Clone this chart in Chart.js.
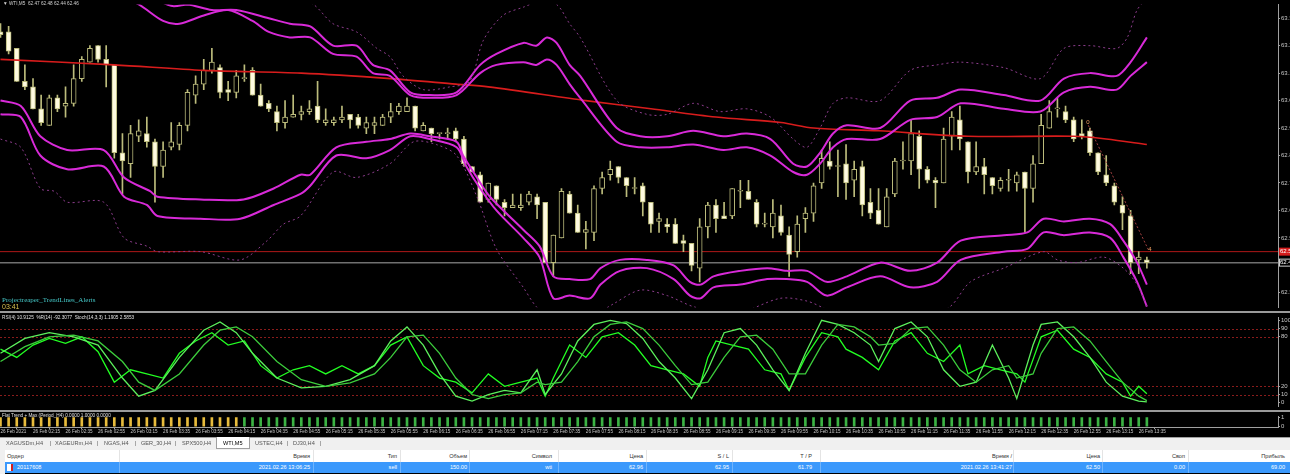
<!DOCTYPE html>
<html>
<head>
<meta charset="utf-8">
<script src="https://cdn.jsdelivr.net/npm/chart.js@4.4.0/dist/chart.umd.min.js"></script>
<style>
  body { margin: 0; width: 1290px; height: 474px; background: #000; overflow: hidden; position: relative; font-family: "Liberation Sans", Arial, sans-serif; }
  .pane { position: absolute; left: 0; width: 1290px; }
  .sep { position: absolute; left: 0; width: 1290px; height: 2px; background: #9a9a9a; }
  .txt { position: absolute; white-space: nowrap; font-size: 4.7px; line-height: 6px; }
  #tabs { position: absolute; left: 0; top: 437px; width: 1290px; height: 12px; background: #f0f0f0; border-top: 1px solid #a0a0a0; color: #555; }
  #tabs span { position: absolute; top: 2px; font-size: 5.6px; white-space: nowrap; }
  #tabs .act { top: -1px; height: 12px; background: #fff; border: 1px solid #a0a0a0; border-top: none; color: #000; padding: 3px 6px 0 6px; box-sizing: border-box; }
  #head { position: absolute; left: 5px; top: 450px; width: 1285px; height: 12px; background: #fff; border-bottom: 1px solid #e0e0e0; }
  #row { position: absolute; left: 5px; top: 462px; width: 1285px; height: 11px; background: #3b99fc; }
  #head span, #row span { position: absolute; top: 3px; font-size: 5.6px; white-space: nowrap; }
  #row span { top: 2px; }
  #head span { color: #333; }
  #row span { color: #fff; }
  #head i, #row i { position: absolute; top: 0; width: 1px; height: 100%; background: #e4e4e4; }
  #row i { background: #6fb4fd; }
  #leftbar { position: absolute; left: 0; top: 450px; width: 5px; height: 24px; background: #f0f0f0; }
</style>
</head>
<body>
<div class="pane" style="top:0;height:312px"><canvas id="main" width="1290" height="312"></canvas></div>
<div class="sep" style="top:311px"></div>
<div class="pane" style="top:313px;height:98px"><canvas id="osc" width="1290" height="98"></canvas></div>
<div class="sep" style="top:410px"></div>
<div class="pane" style="top:412px;height:25px"><canvas id="flat" width="1290" height="25"></canvas></div>

<div class="txt" style="left:3px;top:1px;color:#d0d0d0">&#9660; WTI,M5&nbsp; 62.47 62.48 62.44 62.46</div>
<div class="txt" style="left:2px;top:296px;color:#45c8c8;font-family:'Liberation Serif',serif;font-size:7px;line-height:8px">Projectreaper_TrendLines_Alerts</div>
<div class="txt" style="left:2px;top:303px;color:#d8c050;font-size:7px;line-height:8px">03:41</div>
<div class="txt" style="left:2px;top:315px;color:#e0e0e0">RSI(4) 10.9125&nbsp; %R(14) -92.3077&nbsp; Stoch(14,3,3) 1.1905 2.5853</div>
<div class="txt" style="left:2px;top:413px;color:#e0e0e0">Flat Trend + Max (Period_H4) 0.0000 1.0000 0.0000</div>

<div id="tabs">
  <span style="left:6px">XAGUSDm,H4</span><span style="left:50px">|</span>
  <span style="left:55px">XAGEURm,H4</span><span style="left:97px">|</span>
  <span style="left:104px">NGAS,H4</span><span style="left:135px">|</span>
  <span style="left:141px">GER_30,H4</span><span style="left:175px">|</span>
  <span style="left:182px">SPX500,H4</span>
  <span class="act" style="left:216px">WTI,M5</span>
  <span style="left:255px">USTEC,H4</span><span style="left:287px">|</span>
  <span style="left:293px">DJ30,H4</span><span style="left:320px">|</span>
</div>
<div id="leftbar"></div>
<div id="head"></div>
<div id="row"></div>

<script>
// candles, 26 Feb 2021 01:55 .. 13:40, M5
const opens = [63.30,63.30,63.24,63.12,63.10,63.02,62.96,63.06,63.03,63.04,63.13,63.19,63.25,63.20,63.18,62.86,62.82,62.92,62.93,62.90,
  62.81,62.88,62.89,62.96,63.07,63.11,63.16,63.17,63.09,63.08,63.13,63.16,63.07,63.04,63.01,62.97,62.99,63.00,63.01,63.03,
  62.97,62.97,62.98,63.00,62.99,62.95,62.96,62.96,62.99,63.01,63.01,63.03,62.94,62.95,62.93,62.93,62.94,62.91,62.81,62.78,
  62.69,62.74,62.68,62.66,62.66,62.68,62.70,62.68,62.46,62.55,62.71,62.64,62.57,62.57,62.73,62.78,62.81,62.77,62.73,62.74,
  62.68,62.61,62.60,62.60,62.54,62.53,62.44,62.59,62.67,62.63,62.63,62.72,62.72,62.68,62.60,62.59,62.63,62.56,62.50,62.62,
  62.64,62.75,62.83,62.81,62.82,62.76,62.81,62.68,62.65,62.59,62.71,62.83,62.83,62.92,62.80,62.76,62.75,62.92,62.98,62.90,
  62.79,62.81,62.77,62.73,62.76,62.75,62.79,62.73,62.82,62.95,63.02,63.01,62.98,62.93,62.94,62.86,62.78,62.74,62.67,62.63,
  62.47,62.47];
const highs = [63.33,63.32,63.24,63.18,63.13,63.07,63.07,63.07,63.10,63.18,63.21,63.25,63.25,63.25,63.18,62.93,62.96,62.98,62.99,62.91,
  62.90,62.97,62.97,63.09,63.14,63.20,63.24,63.18,63.12,63.16,63.18,63.17,63.11,63.05,63.03,63.05,63.07,63.03,63.05,63.12,
  63.02,62.99,63.03,63.00,63.00,62.99,62.99,63.00,63.04,63.04,63.06,63.03,62.97,62.95,62.93,62.95,62.95,62.92,62.81,62.79,
  62.75,62.74,62.69,62.71,62.71,62.72,62.71,62.68,62.56,62.73,62.72,62.67,62.61,62.74,62.79,62.83,62.81,62.77,62.77,62.75,
  62.68,62.64,62.62,62.62,62.56,62.53,62.62,62.68,62.69,62.68,62.73,62.76,62.76,62.69,62.64,62.69,62.67,62.59,62.63,62.66,
  62.75,62.87,62.90,62.87,62.89,62.83,62.83,62.73,62.73,62.73,62.84,62.90,62.98,62.94,62.81,62.77,62.95,63.01,63.03,62.90,
  62.90,62.84,62.77,62.77,62.80,62.79,62.79,62.85,63.00,63.05,63.06,63.03,62.99,62.98,62.95,62.86,62.85,62.75,62.70,62.65,
  62.50,62.48];
const lows = [63.28,63.22,63.12,63.09,63.02,62.96,62.96,63.01,62.99,63.03,63.12,63.19,63.19,63.10,62.84,62.71,62.77,62.90,62.88,62.68,
  62.77,62.87,62.87,62.94,63.04,63.09,63.15,63.06,63.05,63.06,63.12,63.07,63.03,63.01,62.94,62.95,62.99,62.98,63.00,62.97,
  62.96,62.96,62.97,62.95,62.95,62.93,62.93,62.96,62.97,63.00,63.01,62.94,62.94,62.90,62.91,62.91,62.90,62.81,62.79,62.68,
  62.68,62.67,62.63,62.66,62.65,62.67,62.62,62.46,62.41,62.55,62.64,62.57,62.51,62.54,62.71,62.76,62.75,62.70,62.71,62.63,
  62.57,62.57,62.57,62.53,62.50,62.43,62.39,62.55,62.57,62.62,62.62,62.66,62.69,62.59,62.59,62.55,62.56,62.41,62.48,62.57,
  62.61,62.73,62.80,62.70,62.69,62.70,62.63,62.62,62.60,62.59,62.70,62.80,62.78,62.73,62.75,62.66,62.75,62.87,62.87,62.75,
  62.78,62.71,62.71,62.72,62.72,62.72,62.57,62.68,62.82,62.95,62.99,62.97,62.90,62.91,62.85,62.78,62.74,62.67,62.58,62.42,
  62.42,62.44];
const closes = [63.29,63.23,63.12,63.10,63.02,62.97,63.06,63.02,63.04,63.13,63.20,63.24,63.20,63.18,62.86,62.83,62.93,62.94,62.90,62.81,
  62.87,62.90,62.96,63.08,63.11,63.16,63.19,63.08,63.08,63.14,63.13,63.07,63.03,63.02,62.97,62.99,63.00,63.01,63.02,62.98,
  62.98,62.98,62.99,62.98,62.96,62.97,62.97,62.99,63.01,63.03,63.03,62.95,62.96,62.93,62.93,62.93,62.91,62.82,62.79,62.68,
  62.75,62.69,62.66,62.67,62.67,62.71,62.67,62.46,62.56,62.72,62.64,62.57,62.58,62.73,62.77,62.80,62.77,62.74,62.73,62.68,
  62.60,62.62,62.59,62.53,62.53,62.45,62.59,62.67,62.62,62.62,62.73,62.72,62.69,62.60,62.60,62.64,62.57,62.49,62.60,62.64,
  62.74,62.84,62.81,62.81,62.75,62.80,62.67,62.64,62.60,62.70,62.83,62.83,62.93,62.80,62.76,62.75,62.91,62.99,62.91,62.79,
  62.81,62.78,62.74,62.76,62.76,62.78,62.73,62.82,62.96,63.01,63.02,62.98,62.91,62.92,62.86,62.79,62.75,62.68,62.64,62.46,
  62.48,62.46];

// indicator lines, read at [bar index, price]
const maLine = [[0,63.20],[14,63.18],[25,63.16],[37,63.15],[48,63.13],[56,63.11],[60,63.10],[72,63.05],[80,63.02],[88,62.99],
  [96,62.97],[100,62.95],[108,62.94],[119,62.92],[132,62.92],[136,62.91],[141,62.89]];
const bandUpOuter = [[0,63.62],[10,63.55],[17,63.45],[21,63.395],[23,63.40],[26,63.38],[29,63.38],[33,63.35],[35.6,63.33],[38.1,63.32],
  [40.9,63.25],[43.8,63.25],[45.8,63.18],[47.9,63.16],[50.4,63.08],[52.8,63.07],[56.1,63.08],[59,63.18],[61,63.22],[64.3,63.26],
  [65.9,63.25],[67.2,63.28],[68.4,63.26],[70,63.18],[71.3,63.14],[75.8,62.95],[78.7,62.92],[82,62.92],[85.2,62.94],[88.9,62.92],
  [91.8,62.93],[94.7,62.91],[97.5,62.82],[99.2,62.81],[100.8,62.86],[102.4,62.93],[104.1,62.96],[108.2,62.95],[111.9,63.05],[115.2,63.06],
  [118.1,63.09],[123.4,63.07],[127.9,63.05],[130.8,63.13],[134,63.15],[137.3,63.14],[139,63.19],[141,63.28]];
const bandUpInner = [[0,63.56],[10,63.50],[17,63.40],[20,63.34],[22,63.33],[25,63.36],[28,63.38],[31,63.34],[33,63.30],[35.6,63.28],
  [38.1,63.28],[40.9,63.22],[43.8,63.21],[45.8,63.15],[47.9,63.14],[50.4,63.07],[52.8,63.06],[56.1,63.07],[59,63.15],[61,63.18],
  [64.3,63.19],[65.9,63.18],[67.2,63.20],[68.4,63.18],[70,63.11],[71.3,63.06],[75.8,62.90],[78.7,62.88],[82,62.88],[85.2,62.89],
  [88.9,62.87],[91.8,62.88],[94.7,62.85],[97.5,62.79],[99.2,62.78],[100.8,62.82],[102.4,62.88],[104.1,62.91],[108.2,62.91],[111.9,62.98],
  [115.2,62.99],[118.1,63.04],[123.4,63.02],[127.9,63.01],[130.8,63.08],[134,63.10],[137.3,63.09],[139,63.14],[141,63.19]];
const bandLowInner = [[0,63.05],[2.5,63.03],[4.9,62.92],[8.2,62.87],[12.7,62.87],[15.2,62.77],[18.4,62.72],[19.3,62.70],[24.6,62.69],[29.9,62.69],
  [33.6,62.73],[36.9,62.78],[38.1,62.78],[41.3,62.88],[45,62.90],[47.9,62.91],[50.4,62.93],[52.8,62.92],[56.1,62.90],[56.9,62.85],
  [58.6,62.77],[60.2,62.70],[64.3,62.58],[66.3,62.52],[68,62.41],[70,62.40],[72.5,62.40],[73.8,62.44],[76.2,62.47],[79.5,62.47],
  [82.8,62.45],[84.8,62.39],[86.1,62.38],[87.7,62.41],[91,62.43],[94.3,62.44],[96.7,62.43],[99.2,62.43],[101.6,62.39],[104.1,62.41],
  [108.2,62.46],[111.9,62.43],[115.2,62.46],[118.1,62.54],[123.4,62.56],[126.3,62.57],[128.3,62.62],[130.8,62.61],[134,62.62],[136.5,62.60],
  [138.1,62.54],[139.8,62.46],[141,62.38]];
const bandLowOuter = [[0,63.00],[2.5,62.99],[4.9,62.85],[8.2,62.80],[12.7,62.81],[15.2,62.70],[18,62.67],[19.3,62.63],[24.6,62.62],[29.5,62.62],
  [33.6,62.67],[36.9,62.71],[38.1,62.74],[41.3,62.85],[45,62.84],[47.9,62.87],[50.4,62.92],[52.8,62.91],[56.1,62.88],[57.3,62.81],
  [59,62.73],[61,62.65],[64.3,62.55],[66.3,62.48],[68,62.33],[70,62.34],[72.5,62.33],[73.8,62.38],[76.2,62.43],[79.5,62.44],
  [82.8,62.40],[84.8,62.34],[86.1,62.33],[87.7,62.37],[91,62.38],[94.3,62.40],[96.7,62.40],[99.2,62.39],[101.6,62.34],[104.1,62.37],
  [108.2,62.41],[111.9,62.37],[115.2,62.39],[118.1,62.47],[123.4,62.50],[126.3,62.51],[128.3,62.57],[130.8,62.56],[134,62.57],[136.5,62.55],
  [138.1,62.48],[139.8,62.39],[141,62.30]];
const envUp = [[0,63.75],[20,63.60],[30,63.50],[35,63.45],[38.5,63.40],[40.9,63.33],[43.8,63.30],[46.3,63.24],[47.9,63.21],[49.5,63.14],
  [52,63.09],[55.3,63.10],[57.7,63.12],[59.4,63.27],[61.8,63.36],[64.3,63.39],[66.3,63.41],[68.4,63.40],[70,63.33],[71.3,63.28],
  [75.8,63.05],[79.5,63.00],[82,63.00],[85.2,63.04],[88.5,63.01],[91.8,63.02],[94.7,62.99],[97.5,62.91],[99.2,62.88],[100.8,62.95],
  [102.4,63.04],[104.1,63.06],[108.2,63.05],[111.9,63.16],[115.2,63.18],[118.1,63.19],[123.4,63.17],[127.9,63.13],[130.8,63.24],[134,63.25],
  [137.3,63.24],[138.6,63.28],[139.8,63.38],[141,63.42]];
const envLow = [[0,62.91],[2.5,62.88],[4.9,62.73],[6.6,62.72],[8.2,62.68],[12.7,62.68],[15.2,62.55],[18,62.52],[19.3,62.50],[24.6,62.50],
  [29.5,62.47],[32.8,62.54],[34.8,62.60],[36.9,62.63],[40.9,62.79],[43.8,62.77],[47.9,62.82],[50.8,62.90],[53.6,62.89],[56.1,62.85],
  [58.6,62.70],[61,62.51],[64.3,62.37],[65.9,62.30],[69,62.22],[72,62.25],[75.4,62.31],[78.7,62.36],[82,62.34],[85.2,62.30],
  [90,62.27],[95.9,62.33],[99.2,62.32],[101.6,62.29],[106,62.24],[112,62.23],[116.8,62.30],[119.3,62.39],[123.4,62.44],[128.3,62.50],
  [130,62.47],[132.4,62.46],[135.7,62.48],[138.1,62.44],[139.8,62.38],[141,62.30]];
const trendLine = [[133.8,62.96],[141.3,62.50]];
const askPrice = 62.50;
const bidPrice = 62.46;
const priceTicks = [62.35,62.55,62.65,62.75,62.85,62.95,63.05,63.15,63.25,63.35];

// oscillator window, read at [bar index, value]
const oscRsi = [[0,65],[2,55],[4,70],[6,78],[8,72],[10,80],[12,62],[14,25],[16,40],[18,35],[20,30],[22,60],[24,75],[26,85],[28,70],
  [30,75],[32,45],[34,30],[36,40],[38,45],[40,35],[42,45],[44,35],[46,45],[48,70],[50,80],[52,45],[54,30],[56,25],[58,12],[60,35],
  [62,20],[64,25],[66,30],[67,8],[68,30],[70,70],[72,55],[74,80],[76,85],[78,70],[80,45],[82,40],[84,35],[86,20],[87,55],[88,75],
  [90,70],[92,65],[94,40],[96,35],[97,15],[99,55],[101,85],[103,80],[104,65],[106,55],[108,40],[110,75],[112,85],[114,60],[116,50],
  [118,70],[119,35],[121,45],[123,40],[125,35],[126,25],[128,80],[130,88],[132,65],[134,55],[136,35],[138,25],[139,8],[140,20],[141,10.9]];
const oscStochMain = [[0,60],[3,78],[6,85],[9,80],[12,70],[15,30],[17,8],[19,15],[22,55],[25,88],[27,98],[29,85],[31,60],[34,30],
  [37,18],[40,20],[43,28],[46,45],[48,75],[50,92],[52,70],[54,35],[56,8],[58,2],[60,10],[62,15],[64,12],[66,40],[67,10],[69,35],
  [71,75],[73,95],[75,100],[77,96],[79,78],[81,50],[83,30],[85,5],[87,40],[89,85],[91,90],[93,70],[95,40],[97,15],[99,60],[101,100],
  [103,95],[105,85],[107,70],[108,50],[110,90],[112,98],[114,80],[116,40],[118,20],[120,25],[122,70],[124,30],[125,5],[127,70],
  [128,95],[130,98],[132,80],[134,55],[136,25],[138,8],[140,2],[141,1.2]];
const oscStochSignal = [[0,50],[3,68],[6,80],[9,82],[12,75],[15,50],[17,25],[19,15],[22,35],[25,70],[27,88],[29,92],[31,80],[34,50],
  [37,28],[40,20],[43,24],[46,35],[48,55],[50,80],[52,82],[54,60],[56,30],[58,10],[60,5],[62,10],[64,12],[66,25],[67,22],[69,25],
  [71,50],[73,80],[75,95],[77,98],[79,90],[81,70],[83,45],[85,22],[87,25],[89,55],[91,80],[93,82],[95,65],[97,35],[99,35],[101,70],
  [103,95],[105,92],[107,80],[108,70],[110,72],[112,90],[114,92],[116,70],[118,40],[120,25],[122,40],[124,45],[125,30],[127,35],
  [128,60],[130,90],[132,92],[134,75],[136,50],[138,25],[140,8],[141,2.6]];
const oscLevels = [10,20,80,90];
const oscTicks = [0,10,20,80,90,100];

// flat trend histogram: 1 = yellow bar, 0 = green bar
const flatValues = [1,1,1,1,1,1,1,1,1,1,1,1,1,1,1,1,1,1,1,1,1,1,1,1,1,1,1,1,1,1,1,1,1,1,1,1,1,1,1,1,1,1,1,1,1,1,1,1,1,1,
  1,1,1,1,1,1,1,1,1,1,1,1,1,1,1,1,1,1,1,1,1,1,1,1,1,1,1,1,1,1,1,1,1,1,1,1,1,1,1,1,1,1,1,1,1,1,1,1,1,1,
  1,1,1,1,1,1,1,1,1,1,1,1,1,1,1,1,1,1,1,1,1,1,1,1,1,1,1,1,1,1,1,1,1,1,1,1,1,1,1,1,1,1];
const flatMode = [1,1,1,1,1,1,1,1,1,1,1,1,1,1,1,1,1,1,1,1,1,1,1,1,1,1,1,1,1,1,0,0,0,0,0,0,0,0,0,0,0,0,0,0,0,0,0,0,0,0,
  0,0,0,0,0,0,0,0,0,0,0,0,0,0,0,0,0,0,0,0,0,0,0,0,0,0,0,0,0,0,0,0,0,0,0,0,0,0,0,0,0,0,0,0,0,0,0,0,0,0,
  0,0,0,0,0,0,0,0,0,0,0,0,0,0,0,0,0,0,0,0,0,0,0,0,0,0,0,0,0,0,0,0,0,0,0,0,0,0,0,0,0,0];

const timeIdx = [0,4,8,12,16,20,24,28,32,36,40,44,48,52,56,60,64,68,72,76,80,84,88,92,96,100,104,108,112,116,120,124,128,132,136,140];
const timeLabels = ["26 Feb 2021","26 Feb 02:15","26 Feb 02:35","26 Feb 02:55","26 Feb 03:15","26 Feb 03:35","26 Feb 03:55","26 Feb 04:15",
  "26 Feb 04:35","26 Feb 04:55","26 Feb 05:15","26 Feb 05:35","26 Feb 05:55","26 Feb 06:15","26 Feb 06:35","26 Feb 06:55","26 Feb 07:15",
  "26 Feb 07:35","26 Feb 07:55","26 Feb 08:15","26 Feb 08:35","26 Feb 08:55","26 Feb 09:15","26 Feb 09:35","26 Feb 09:55","26 Feb 10:15",
  "26 Feb 10:35","26 Feb 10:55","26 Feb 11:15","26 Feb 11:35","26 Feb 11:55","26 Feb 12:15","26 Feb 12:35","26 Feb 12:55","26 Feb 13:15",
  "26 Feb 13:35"];

// terminal order row
const tableCols = ["Ордер","Время","Тип","Объем","Символ","Цена","S / L","T / P","Время  /","Цена","Своп","Прибыль"];
const tableRow = ["20117608","2021.02.26 13:06:25","sell","150.00","wti","62.96","62.95","61.79","2021.02.26 13:41:27","62.50","0.00","69.00"];

const colRight = [0,305,392,462,547,638,724,807,1007,1095,1180,1280];
const colSep = [114,308,395,464,553,641,727,815,1008,1097,1183];
const head = document.getElementById("head");
const row = document.getElementById("row");
tableCols.forEach((t, k) => {
  const s = document.createElement("span");
  s.textContent = t;
  if (k === 0) s.style.left = "2px"; else s.style.right = (1285 - colRight[k]) + "px";
  head.appendChild(s);
  const r = document.createElement("span");
  r.textContent = tableRow[k];
  if (k === 0) r.style.left = "12px"; else r.style.right = (1285 - colRight[k]) + "px";
  row.appendChild(r);
});
colSep.forEach(x => {
  const a = document.createElement("i"); a.style.left = x + "px"; head.appendChild(a);
  const b = document.createElement("i"); b.style.left = x + "px"; row.appendChild(b);
});
const icon = document.createElement("span");
icon.style.cssText = "left:2px;top:2px;width:6px;height:7px;background:#fff;border-right:2px solid #d02020;box-sizing:border-box";
row.appendChild(icon);

const X_MIN = -0.06, X_MAX = 157.13;
const axisColor = "#a0a0a0";
const tickFont = { size: 6, family: "Liberation Sans" };
const pts = arr => arr.map(([x, y]) => ({ x, y }));
const fixWidth = s => { s.width = 12; };

const bodyData = opens.map((o, i) => ({ x: i, y: [Math.min(o, closes[i]), Math.max(o, closes[i])] }));
const wickData = highs.map((h, i) => ({ x: i, y: [lows[i], h] }));
const bodyFill = opens.map((o, i) => (closes[i] >= o ? "#000000" : "#fffbe0"));
const candleLine = "#bcbc7c";

const band = (data, color, width, dash) => ({
  type: "line", data: pts(data), borderColor: color, borderWidth: width, borderDash: dash || [],
  pointRadius: 0, tension: 0.3, order: 1, clip: true
});

const priceLabels = {
  id: "priceLabels",
  afterDraw(chart) {
    const ctx = chart.ctx, y = chart.scales.y;
    ctx.save();
    ctx.font = "6px Liberation Sans";
    ctx.textBaseline = "middle";
    const ya = y.getPixelForValue(askPrice);
    ctx.fillStyle = "#d41c1c";
    ctx.fillRect(1279, ya - 4, 11, 8);
    ctx.fillStyle = "#fff";
    ctx.fillText(askPrice.toFixed(2), 1280, ya);
    const yb = y.getPixelForValue(bidPrice);
    ctx.fillStyle = "#000";
    ctx.fillRect(1279, yb - 4, 11, 8);
    ctx.strokeStyle = "#d0d0d0";
    ctx.strokeRect(1279.5, yb - 3.5, 11, 7);
    ctx.fillStyle = "#fff";
    ctx.fillText(bidPrice.toFixed(2), 1280, yb);
    // trend line end markers
    const x = chart.scales.x;
    ctx.fillStyle = "#f0a060";
    ctx.fillText("0", x.getPixelForValue(trendLine[0][0]) - 2, y.getPixelForValue(trendLine[0][1]) - 3);
    ctx.fillText("4", x.getPixelForValue(trendLine[1][0]) - 1, y.getPixelForValue(trendLine[1][1]) - 2);
    ctx.restore();
  }
};

new Chart(document.getElementById("main"), {
  type: "bar",
  data: {
    datasets: [
      { type: "line", data: [{ x: X_MIN - 1, y: askPrice }, { x: X_MAX + 1, y: askPrice }], borderColor: "#b01818", borderWidth: 1, pointRadius: 0, order: 5 },
      { type: "line", data: [{ x: X_MIN - 1, y: bidPrice }, { x: X_MAX + 1, y: bidPrice }], borderColor: "#707070", borderWidth: 1.5, pointRadius: 0, order: 5 },
      { data: wickData, backgroundColor: candleLine, barThickness: 1, grouped: false, order: 4 },
      { data: bodyData, backgroundColor: bodyFill, borderColor: candleLine, borderWidth: 1, borderSkipped: false,
        barThickness: 5, minBarLength: 1, grouped: false, order: 3 },
      band(envUp, "#8c3c8c", 1, [2, 3]),
      band(envLow, "#8c3c8c", 1, [2, 3]),
      band(bandUpOuter, "#d82ad8", 2),
      band(bandUpInner, "#d82ad8", 2),
      band(bandLowInner, "#d82ad8", 2),
      band(bandLowOuter, "#d82ad8", 2),
      band(maLine, "#d81c1c", 1.6),
      band(trendLine, "#a04040", 1, [2, 2])
    ]
  },
  options: {
    responsive: false,
    animation: false,
    layout: { padding: 0 },
    plugins: { legend: { display: false }, tooltip: { enabled: false } },
    scales: {
      x: { type: "linear", min: X_MIN, max: X_MAX, offset: false, display: false },
      y: {
        position: "right", min: 62.297, max: 63.3995, afterFit: fixWidth,
        afterBuildTicks: s => { s.ticks = priceTicks.map(v => ({ value: v })); },
        ticks: { color: "#c8c8c8", font: tickFont, padding: 1, callback: v => v.toFixed(2) },
        grid: { drawOnChartArea: false, tickLength: 2, color: axisColor },
        border: { color: axisColor }
      }
    }
  },
  plugins: [priceLabels]
});

const oscLevelLines = {
  id: "oscLevelLines",
  beforeDatasetsDraw(chart) {
    const ctx = chart.ctx, y = chart.scales.y, a = chart.chartArea;
    ctx.save();
    ctx.strokeStyle = "#8a1c1c";
    ctx.setLineDash([2, 2]);
    ctx.lineWidth = 1;
    oscLevels.forEach(v => {
      const py = Math.round(y.getPixelForValue(v)) + 0.5;
      ctx.beginPath(); ctx.moveTo(a.left, py); ctx.lineTo(a.right, py); ctx.stroke();
    });
    ctx.restore();
  }
};

const oscLine = (data, color) => ({ data: pts(data), borderColor: color, borderWidth: 1.3, pointRadius: 0, tension: 0 });

new Chart(document.getElementById("osc"), {
  type: "line",
  data: {
    datasets: [
      oscLine(oscStochSignal, "#3ccc3c"),
      oscLine(oscStochMain, "#5cf05c"),
      oscLine(oscRsi, "#22ff22")
    ]
  },
  options: {
    responsive: false,
    animation: false,
    layout: { padding: 0 },
    plugins: { legend: { display: false }, tooltip: { enabled: false } },
    scales: {
      x: { type: "linear", min: X_MIN, max: X_MAX, offset: false, display: false },
      y: {
        position: "right", min: -4.4, max: 103.3, afterFit: fixWidth,
        afterBuildTicks: s => { s.ticks = oscTicks.map(v => ({ value: v })); },
        ticks: { color: "#c8c8c8", font: tickFont, padding: 1 },
        grid: { drawOnChartArea: false, tickLength: 2, color: axisColor },
        border: { color: axisColor }
      }
    }
  },
  plugins: [oscLevelLines]
});

new Chart(document.getElementById("flat"), {
  type: "bar",
  data: {
    datasets: [{
      data: flatValues.map((v, i) => ({ x: i, y: v })),
      backgroundColor: flatMode.map(m => (m ? "#e8bc3c" : "#3cb444")),
      barThickness: 2
    }]
  },
  options: {
    responsive: false,
    animation: false,
    layout: { padding: 0 },
    plugins: { legend: { display: false }, tooltip: { enabled: false } },
    scales: {
      x: {
        type: "linear", min: X_MIN, max: X_MAX, offset: false,
        afterFit: s => { s.height = 10; },
        afterBuildTicks: s => { s.ticks = timeIdx.map(v => ({ value: v })); },
        ticks: { color: "#c8c8c8", font: { size: 4.6, family: "Liberation Sans" }, padding: 0, align: "start",
          maxRotation: 0, autoSkip: false, callback: (v, k) => timeLabels[k] },
        grid: { drawOnChartArea: false, tickLength: 2, color: axisColor },
        border: { color: axisColor }
      },
      y: {
        position: "right", min: -0.05, max: 1.1, afterFit: fixWidth,
        afterBuildTicks: s => { s.ticks = [{ value: 0 }, { value: 1 }]; },
        ticks: { color: "#c8c8c8", font: tickFont, padding: 1 },
        grid: { drawOnChartArea: false, tickLength: 2, color: axisColor },
        border: { color: axisColor }
      }
    }
  }
});
</script>
</body>
</html>
